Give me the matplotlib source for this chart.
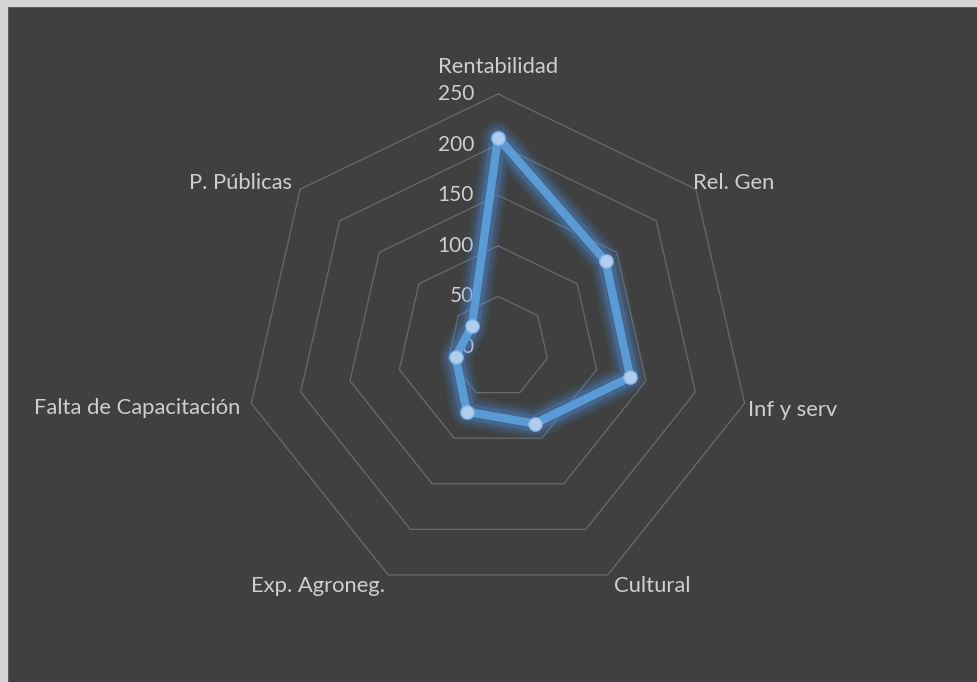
import numpy as np
import matplotlib
matplotlib.use("Agg")
import matplotlib.pyplot as plt
from matplotlib.patches import Rectangle
from matplotlib.transforms import offset_copy

categories = ["Rentabilidad", "Rel. Gen", "Inf y serv", "Cultural",
              "Exp. Agroneg.", "Falta de Capacitación", "P. Públicas"]
values = [207, 136, 134, 84, 71, 43, 33]
ring_levels = [50, 100, 150, 200, 250]
tick_labels = ["0", "50", "100", "150", "200", "250"]
tick_values = [0, 50, 100, 150, 200, 250]

BG = "#404040"
TXT = "#cfcfcf"
GRID = "#6a6a6a"
BLUE = "#5B9BD5"

plt.rcParams['font.family'] = ['Lato', 'DejaVu Sans']

fig = plt.figure(figsize=(9.78, 6.82), dpi=100, facecolor=BG)
fig.patches.append(Rectangle((0, 0), 7/978, 1, transform=fig.transFigure,
                             color="#d6d6d6", zorder=10))
fig.patches.append(Rectangle((0, 1-6/682), 1, 6/682, transform=fig.transFigure,
                             color="#d6d6d6", zorder=10))

cx, cy, R = 498, 682-347, 253
ax = fig.add_axes([(cx-R)/978, (cy-R)/682, 2*R/978, 2*R/682], projection='polar')
ax.set_facecolor("none")
ax.set_theta_zero_location('N')
ax.set_theta_direction(-1)
ax.set_ylim(0, 250)
ax.grid(False)
ax.spines['polar'].set_visible(False)
ax.set_xticks([])
ax.set_yticks([])

n = len(categories)
theta = np.arange(n) * 2*np.pi/n
theta_c = np.append(theta, theta[0])

for lv in ring_levels:
    ax.plot(theta_c, [lv]*(n+1), color=GRID, lw=0.9, zorder=1, clip_on=False)

for tv, tl in zip(tick_values, tick_labels):
    t = offset_copy(ax.transData, fig=fig, x=-24, y=0, units='dots')
    ax.text(0, tv, tl, transform=t, ha='right', va='center',
            color=TXT, fontsize=15)

offsets = [((0, 27), 'center'), ((-3, 6), 'left'), ((3, -7), 'left'),
           ((6, -11), 'left'), ((-3, -11), 'right'), ((-11, -5), 'right'),
           ((-8, 6), 'right')]
for th, lab, (off, ha) in zip(theta, categories, offsets):
    ax.annotate(lab, xy=(th, 250), xytext=off, textcoords='offset pixels',
                ha=ha, va='center', color=TXT, fontsize=15.8,
                annotation_clip=False)

vals_c = values + [values[0]]
for lw, a in [(24, 0.07), (20, 0.10), (16, 0.14), (12, 0.25)]:
    ax.plot(theta_c, vals_c, color="#4a94e8", lw=lw, alpha=a, solid_joinstyle='round',
            solid_capstyle='round', zorder=3, clip_on=False)
ax.plot(theta_c, vals_c, color=BLUE, lw=6, solid_joinstyle='round', zorder=4,
        clip_on=False)
ax.plot(theta, values, linestyle='none', marker='o', markersize=9.5,
        markerfacecolor="#b0cdee", markeredgecolor="#8ab8e6", markeredgewidth=1,
        zorder=5, clip_on=False)

fig.savefig("out.png", dpi=100, facecolor=BG)
